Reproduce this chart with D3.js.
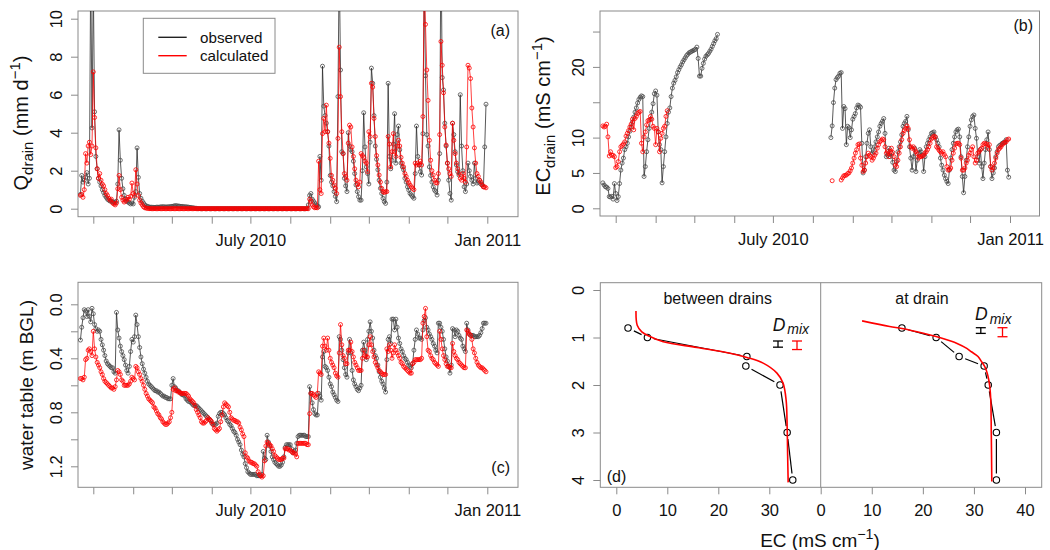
<!DOCTYPE html>
<html><head><meta charset="utf-8">
<script src="https://cdn.jsdelivr.net/npm/d3@7"></script>
<style>body{margin:0;background:#fff;} svg{display:block;}</style>
</head><body>
<script>
// ---------------- DATA ----------------
const seriesStart = "2010-02-19";            // daily series start
const qObs = [0.75,1.75,1.4,1.5,1.65,1.9,1.3,1.6,13,4.25,
12,5.1,2.75,2.1,1.6,1.4,1.2,1.0,0.85,0.7,
0.6,0.5,0.45,0.4,0.4,0.35,0.35,0.3,0.4,1.3,
4.15,2.55,1.6,1.05,0.7,0.5,0.4,0.35,0.3,0.25,
0.3,0.25,0.6,0.9,3.2,1.65,0.8,0.55,0.4,0.3,
0.2,0.15,0.12,0.1,0.08,0.08,0.07,0.07,0.07,0.08,
0.08,0.08,0.09,0.1,0.1,0.1,0.09,0.09,0.1,0.1,
0.11,0.12,0.13,0.15,0.16,0.15,0.14,0.13,0.12,0.12,
0.11,0.1,0.1,0.09,0.08,0.07,0.06,0.05,0.04,0.03,
0.02,0.01,0,0,0,0,0,0,0,0,
0,0,0,0,0,0,0,0,0,0,
0,0,0,0,0,0,0,0,0,0,
0,0,0,0,0,0,0,0,0,0,
0,0,0,0,0,0,0,0,0,0,
0,0,0,0,0,0,0,0,0,0,
0,0,0,0,0,0,0,0,0,0,
0,0,0,0,0,0,0,0,0,0,
0,0,0,0,0,0,0,0.2,0.7,0.8,
0.5,0.4,0.3,0.2,0.15,0.1,2.75,1.5,7.5,5.4,
4.9,4.5,4.05,3.3,1.75,1.4,1.2,0.9,0.65,0.37,
5.9,13,7.3,3.0,2.9,1.6,1.2,0.9,4.0,3.3,
3.1,3.0,2.5,1.85,1.25,0.9,0.63,0.45,0.45,2.0,
5.05,3.25,2.2,1.85,1.3,3.5,7.4,6.6,4.9,3.3,
2.6,2.05,1.5,1.07,0.8,0.55,0.37,0.28,1.4,6.6,
2.75,2.1,2.55,3.4,5.0,2.4,3.9,4.35,3.1,2.4,
2.2,2.05,1.6,1.4,1.15,0.98,0.8,0.72,0.63,0.55,
1.85,4.35,2.75,2.3,1.95,1.77,3.95,12,7.0,3.9,
3.3,2.2,1.75,1.4,1.15,0.98,0.9,0.72,1.5,2.9,
14,6.9,6.25,4.5,3.3,2.4,1.5,0.8,0.45,4.5,
3.9,3.0,2.3,1.95,1.77,6.0,3.3,2.0,1.15,0.9,
1.3,2.4,2.0,1.7,1.5,1.3,2.4,1.6,1.35,1.4,
1.5,1.3,1.25,1.15,3.25,5.5];
const qCalc = [0.7,0.75,0.6,1.0,2.9,2.4,3.3,3.5,2.85,3.3,
7.2,4.8,3.2,2.1,1.6,1.85,1.5,1.3,1.2,1.0,
0.8,0.7,0.55,0.45,0.5,0.3,0.25,0.2,0.3,1.05,
1.75,1.0,0.6,0.45,0.35,0.4,0.5,0.6,0.5,0.65,
1.35,0.8,0.7,2.05,1.3,0.7,0.45,0.3,0.2,0.1,
0.05,0.03,0.02,0.01,0,0,0,0,0,0,
0,0,0,0,0,0,0,0,0,0,
0,0,0,0,0,0,0,0,0,0,
0,0,0,0,0,0,0,0,0,0,
0,0,0,0,0,0,0,0,0,0,
0,0,0,0,0,0,0,0,0,0,
0,0,0,0,0,0,0,0,0,0,
0,0,0,0,0,0,0,0,0,0,
0,0,0,0,0,0,0,0,0,0,
0,0,0,0,0,0,0,0,0,0,
0,0,0,0,0,0,0,0,0,0,
0,0,0,0,0,0,0,0,0,0,
0,0,0,0,0,0,0,0,0.5,0.4,
0.2,0.1,0.05,0.05,0.05,2.5,1.0,0.8,3.95,4.75,
4.05,5.45,4.05,3.45,2.65,1.75,1.5,1.25,1.07,0.8,
3.7,8.5,5.9,4.05,2.9,1.85,1.7,1.5,3.45,4.4,
4.3,3.25,2.75,2.1,1.5,1.3,1.15,1.4,2.9,2.8,
2.7,2.5,2.4,1.95,4.05,3.8,6.6,6.4,4.75,3.8,
2.8,2.3,1.77,1.4,1.07,0.9,0.85,0.9,0.9,3.8,
3.4,2.2,3.0,3.95,3.0,2.75,3.3,3.6,3.3,2.7,
2.4,2.2,1.85,1.7,1.5,1.37,1.25,1.15,1.07,1.0,
2.4,2.3,2.4,2.3,2.5,2.3,4.85,12,9.7,7.3,
5.7,3.6,2.55,2.0,1.77,1.5,1.37,1.35,1.85,3.9,
8.8,7.55,6.1,4.3,3.35,2.4,2.1,1.85,1.7,4.5,
3.6,2.9,2.4,2.1,1.85,1.6,1.5,1.85,1.6,1.4,
3.25,7.55,7.4,6.85,5.3,4.3,3.2,2.4,1.85,1.7,
1.5,1.4,1.25,1.15,1.15,1.1];

const ecObsEarlyStart = "2010-02-19";
const ecObsEarly = [3.6,3.3,3.05,3.0,2.8,1.65,1.6,1.7,1.3,3.5,
2.1,1.1,1.65,3.5,5.4,6.4,7.1,8.3,8.7,9.2,
10.1,10.9,11.5,12.2,12.9,13.6,14.2,14.9,15.4,15.7,
15.9,15.8,4.5,5.9,8.0,9.7,11.3,12.6,13.6,14.8,
16.2,16.6,16.0,10.8,9.0,8.3,3.6,5.9,8.0,10.1,
12.0,13.6,14.2,15.8,17.0,17.7,18.1,18.6,19.2,19.6,
20.0,20.3,20.7,21.0,21.3,21.6,21.8,22.0,22.1,22.2,
22.3,22.4,22.5,22.8,21.2,18.7,18.7,19.8,20.5,21.1,
21.5,21.7,21.9,22.2,22.5,22.9,23.3,23.7,24.0,24.6];
const ecObsLateStart = "2010-08-15";
const ecObsLate = [10.0,11.65,14.95,17.0,18.2,18.5,18.7,19.1,19.2,
11.3,14.4,14.1,9.0,11.6,11.4,10.0,11.1,12.6,13.0,13.4,14.2,14.6,14.5,
14.3,9.2,5.0,5.4,7.3,9.2,10.6,11.1,8.7,7.8,
8.0,8.7,9.4,10.1,10.8,11.6,12.0,12.3,12.7,10.6,
7.3,7.5,8.5,7.3,7.8,6.5,5.4,5.2,6.6,8.0,
8.7,9.4,10.4,11.6,12.0,12.3,13.0,11.1,8.7,7.1,
5.4,7.3,8.5,5.2,6.8,7.8,8.3,8.0,7.5,5.2,
7.3,8.7,9.2,9.7,10.1,10.6,10.7,10.8,10.1,9.7,
9.2,8.7,7.1,6.1,5.4,4.7,4.2,3.8,3.5,5.4,
7.1,8.3,9.2,10.1,10.8,11.1,11.2,10.1,7.3,4.5,
2.2,4.5,6.8,8.7,10.1,11.6,12.5,13.0,13.2,11.3,
9.9,7.3,6.4,8.3,5.9,4.2,6.4,8.3,9.7,10.8,
8.3,5.9,4.2,5.0,5.7,7.3,8.0,8.7,8.9,9.0,
9.2,9.3,9.4,9.7,5.4,4.4];
const ecCalcEarlyStart = "2010-02-19";
const ecCalcEarly = [11.65,11.5,11.6,11.9,10.1,7.4,8.0,7.5,7.5,7.3,
5.75,5.9,6.6,8.0,8.7,8.9,9.1,9.4,10.2,10.6,
11.0,11.5,11.9,12.6,11.1,12.7,13.0,13.4,13.6,13.7,
9.2,8.0,10.1,10.8,11.8,12.4,12.5,13.0,12.6,11.6,
11.3,9.0,11.3,10.8,8.0,9.9,10.6,11.3,11.6,13.0,
13.8];
const ecCalcLateStart = "2010-08-16";
const ecCalcLate = [3.9,null,null,null,null,null,null,
4.0,4.3,4.6,4.65,4.7,4.9,5.0,5.3,5.7,6.4,7.1,7.8,8.3,9.0,9.1,
7.1,6.1,5.2,5.4,6.4,7.3,7.8,7.5,7.3,6.8,
7.1,7.5,7.8,8.5,9.0,9.4,9.6,9.8,9.7,8.7,
7.8,8.0,7.3,8.0,8.5,7.9,7.3,6.1,5.9,6.8,
7.8,8.7,9.7,10.6,11.0,11.3,11.65,11.3,9.7,8.7,
8.5,8.7,8.3,8.0,7.7,7.1,7.3,7.3,7.4,7.5,
7.8,8.0,8.3,8.7,9.2,9.8,10.0,10.2,10.1,8.7,
8.5,8.2,8.0,7.8,8.0,7.6,7.3,5.9,5.4,5.5,
5.7,6.8,7.8,8.5,9.1,9.2,9.2,9.0,7.1,5.4,
5.4,5.7,6.4,6.8,7.5,7.8,8.3,8.7,7.3,6.4,
6.8,7.8,8.0,8.3,8.5,9.0,9.2,9.1,9.1,8.5,
9.0,5.9,5.4,5.7,6.4,7.1,7.8,8.3,8.5,8.7,
9.0,9.2,9.3,9.4,9.7,9.8];

const wtObs = [0.265,0.17,0.1,0.04,0.05,0.09,0.04,0.09,0.13,0.03,
0.07,0.15,0.18,0.2,0.19,0.2,0.26,0.3,0.34,0.38,
0.42,0.44,0.45,0.46,0.47,0.47,0.5,0.51,0.06,0.19,
0.25,0.31,0.35,0.38,0.41,0.45,0.49,0.51,0.46,0.35,
0.26,0.28,0.24,0.08,0.15,0.24,0.32,0.39,0.44,0.48,
0.51,0.54,0.57,0.59,0.6,0.61,0.62,0.63,0.64,0.64,
0.65,0.65,0.66,0.67,0.68,0.68,0.69,0.69,0.7,0.7,
0.7,0.6,0.55,0.61,0.62,0.64,0.64,0.65,0.66,0.67,
0.67,0.68,0.7,0.71,0.72,0.72,0.73,0.74,0.75,0.75,
0.75,0.76,0.77,0.78,0.79,0.8,0.81,0.82,0.83,0.84,
0.85,0.86,0.88,0.89,0.89,0.89,0.88,0.83,0.81,0.8,
0.8,0.81,0.82,0.84,0.86,0.87,0.89,0.9,0.92,0.94,
0.95,0.97,1.0,1.02,1.04,1.08,1.11,1.13,1.18,1.21,
1.24,1.25,1.26,1.26,1.26,1.26,1.26,1.27,1.27,1.27,
1.27,1.26,1.09,1.14,1.15,0.97,1.02,1.05,1.09,1.13,
1.15,1.17,1.18,1.19,1.2,1.2,1.19,1.17,1.13,1.06,
1.04,1.04,1.04,1.04,1.07,1.1,1.09,1.08,1.03,0.98,
0.97,0.97,0.97,0.97,0.97,0.98,0.98,0.98,0.61,0.66,
0.73,0.78,0.81,0.82,0.82,0.66,0.68,0.71,0.39,0.35,
0.46,0.47,0.49,0.54,0.59,0.61,0.65,0.67,0.69,0.71,
0.72,0.24,0.26,0.34,0.41,0.47,0.52,0.54,0.36,0.26,
0.36,0.49,0.56,0.59,0.61,0.63,0.64,0.62,0.6,0.34,
0.28,0.34,0.41,0.26,0.2,0.13,0.2,0.25,0.34,0.38,
0.4,0.45,0.5,0.54,0.57,0.59,0.62,0.65,0.41,0.26,
0.24,0.29,0.11,0.11,0.19,0.11,0.17,0.25,0.29,0.33,
0.35,0.38,0.4,0.41,0.43,0.45,0.46,0.47,0.44,0.34,
0.26,0.19,0.22,0.25,0.25,0.26,0.19,0.12,0.1,0.17,
0.19,0.22,0.24,0.26,0.29,0.31,0.34,0.36,0.14,0.14,
0.17,0.2,0.26,0.33,0.39,0.42,0.46,0.51,0.45,0.18,
0.19,0.24,0.19,0.2,0.23,0.25,0.26,0.31,0.33,0.35,
0.14,0.19,0.22,0.23,0.23,0.23,0.24,0.24,0.24,0.24,
0.23,0.21,0.18,0.14,0.14,0.14];
const wtCalc = [0.55,0.55,0.56,0.54,0.41,0.4,0.34,0.33,0.35,0.38,
0.2,0.33,0.39,0.43,0.45,0.47,0.5,0.52,0.55,0.57,
0.58,0.59,0.6,0.61,0.62,0.62,0.63,0.61,0.56,0.49,
0.5,0.52,0.56,0.57,0.6,0.6,0.6,0.6,0.59,0.57,
0.54,0.55,0.56,0.46,0.47,0.5,0.52,0.55,0.57,0.6,
0.63,0.66,0.68,0.7,0.71,0.72,0.73,0.76,0.77,0.79,
0.81,0.82,0.84,0.85,0.87,0.88,0.89,0.89,0.88,0.87,
0.84,0.8,0.63,0.62,0.64,0.64,0.65,0.65,0.66,0.66,
0.66,0.66,0.66,0.67,0.68,0.7,0.71,0.72,0.73,0.75,
0.78,0.8,0.82,0.84,0.87,0.88,0.88,0.87,0.86,0.84,
0.85,0.86,0.87,0.89,0.92,0.93,0.94,0.93,0.92,0.87,
0.82,0.76,0.73,0.74,0.75,0.76,0.8,0.84,0.85,0.86,
0.86,0.87,0.87,0.88,0.91,0.93,0.96,0.98,1.1,1.13,
1.14,1.16,1.17,1.17,1.18,1.18,1.19,1.2,1.24,1.26,
1.27,1.28,1.27,1.16,1.05,1.02,1.03,1.04,1.05,1.07,
1.09,1.12,1.13,1.14,1.15,1.15,1.15,1.14,1.14,1.07,
1.07,1.07,1.08,1.08,1.09,1.1,1.1,1.11,1.13,1.03,
1.03,1.03,1.03,1.03,1.03,1.03,1.04,1.04,0.81,0.66,
0.66,0.67,0.68,0.69,0.66,0.5,0.51,0.52,0.31,0.25,
0.31,0.34,0.25,0.34,0.4,0.43,0.45,0.47,0.51,0.53,
0.54,0.36,0.15,0.3,0.38,0.4,0.44,0.44,0.34,0.34,
0.28,0.35,0.39,0.43,0.45,0.47,0.49,0.49,0.49,0.4,
0.34,0.38,0.39,0.39,0.3,0.24,0.3,0.35,0.39,0.43,
0.45,0.47,0.49,0.5,0.51,0.52,0.52,0.52,0.33,0.35,
0.3,0.34,0.4,0.36,0.3,0.34,0.36,0.38,0.4,0.43,
0.44,0.46,0.47,0.48,0.49,0.5,0.51,0.51,0.44,0.43,
0.41,0.41,0.41,0.41,0.41,0.4,0.14,0.09,0.03,0.24,
0.34,0.35,0.38,0.4,0.41,0.43,0.44,0.45,0.46,0.2,
0.26,0.33,0.38,0.41,0.44,0.46,0.46,0.47,0.47,0.29,
0.35,0.38,0.4,0.41,0.43,0.44,0.45,0.46,0.47,0.47,
0.19,0.2,0.22,0.23,0.26,0.33,0.36,0.4,0.43,0.45,
0.46,0.47,0.47,0.48,0.49,0.5];

const monthTickDates = ["2010-03-01","2010-04-01","2010-05-01","2010-06-01","2010-07-01","2010-08-01",
  "2010-09-01","2010-10-01","2010-11-01","2010-12-01","2011-01-01"];
const monthTickLabels = ["","","","","July 2010","","","","","","Jan 2011"];
const qTicks = [0,2,4,6,8,10];
const qTickLabels = ["0","2","4","6","8","10"];
const ecTicks = [0,5,10,15,20,25];
const ecTickLabels = ["0","5","10","","20",""];
const wtTicks = [0,0.2,0.4,0.6,0.8,1.0,1.2];
const wtTickLabels = ["0.0","","0.4","","0.8","","1.2"];
const depthTicks = [0,1,2,3,4];
const ecLeftTicks = [0,10,20,30];
const ecRightTicks = [0,10,20,30,40];

const betweenObsEC    = [2.3,6.1,25.6,25.4,32.1,33.5,34.6];
const betweenObsDepth = [0.8,1.0,1.4,1.6,2.0,3.0,4.0];
const betweenCalcEC    = [3.86,4.1,5.0,6.6,9.2,15.8,22.3,25.6,28.8,31.5,32.7,33.3,33.5,33.6,33.7];
const betweenCalcDepth = [0.44,0.74,0.88,0.98,1.09,1.21,1.33,1.42,1.54,1.75,1.96,2.32,2.88,3.5,4.05];
const atObsEC    = [15.9,22.6,27.1,32.0,32.8,34.4,34.4];
const atObsDepth = [0.8,1.0,1.4,1.6,2.0,3.0,4.0];
const atCalcEC    = [8.1,13.5,15.9,20.1,22.6,25.3,26.6,28.6,29.5,30.8,31.5,32.1,32.6,32.9,33.1,33.3,33.4,33.5];
const atCalcDepth = [0.65,0.77,0.81,0.91,0.98,1.07,1.12,1.23,1.30,1.40,1.51,1.61,1.75,1.89,2.03,2.32,3.02,4.03];
const dmixObs  = [0.13, 0.12];   // m
const dmixCalc = [0.18, 0.19];   // m

// ---------------- DRAWING ----------------
const FONT = "'Liberation Sans', Arial, Helvetica, sans-serif";
const BOX = "#8a8a8a", TXT = "#111";
const OBS_LINE = "#222", OBS_PT = "#4a4a4a", CALC = "#ff0000";
const svg = d3.select("body").append("svg").attr("width",1050).attr("height",550)
  .style("font-family",FONT);
const defs = svg.append("defs");
const parse = d3.utcParse("%Y-%m-%d");

function series(start, vals){
  const s = parse(start);
  return vals.map((v,i)=>({date:d3.utcDay.offset(s,i), v}));
}

const P = {
  a:{x0:78,x1:518,y0:11,y1:216.7},
  b:{x0:600,x1:1039.5,y0:11,y1:216},
  c:{x0:78,x1:518,y0:282.3,y1:487.3},
  d:{x0:600.3,x1:1041.7,y0:282.7,y1:487.3}
};

function box(p){
  svg.append("rect").attr("x",p.x0).attr("y",p.y0).attr("width",p.x1-p.x0).attr("height",p.y1-p.y0)
    .attr("fill","none").attr("stroke",BOX).attr("stroke-width",1);
}
function clip(id,p){
  defs.append("clipPath").attr("id",id).append("rect")
    .attr("x",p.x0).attr("y",p.y0).attr("width",p.x1-p.x0).attr("height",p.y1-p.y0);
  return svg.append("g").attr("clip-path",`url(#${id})`);
}
function styleAxis(g){
  g.attr("font-size",null).attr("font-family",null);
  g.select(".domain").remove();
  g.selectAll(".tick line").attr("stroke",BOX).attr("stroke-width",1);
  g.selectAll(".tick text").attr("fill",TXT).style("font-size","16.5px").style("font-family",FONT);
}
function bottomAxis(scale, y, values, labels){
  const g = svg.append("g").attr("transform",`translate(0,${y})`)
    .call(d3.axisBottom(scale).tickValues(values).tickFormat((d,i)=>labels[i]).tickSize(7).tickSizeOuter(0));
  styleAxis(g);
  g.selectAll(".tick text").attr("y",29).attr("dy",null);
}
function leftAxis(scale, x, values, labels){
  const g = svg.append("g").attr("transform",`translate(${x},0)`)
    .call(d3.axisLeft(scale).tickValues(values).tickFormat((d,i)=>labels[i]).tickSize(7).tickSizeOuter(0));
  styleAxis(g);
  g.selectAll(".tick text").attr("x",null).attr("dy",null)
    .attr("transform","translate(-16,0) rotate(-90)").attr("text-anchor","middle");
}
function richText(parent, parts, size){
  const t = parent.append("text").attr("text-anchor","middle").attr("fill",TXT).style("font-size",size+"px");
  let shift = 0;
  parts.forEach(p=>{
    const target = p.sub ? 5 : p.sup ? -8 : 0;
    const ts = t.append("tspan").text(p.t).attr("dy", target - shift);
    if (p.sub || p.sup) ts.style("font-size",(size*0.75)+"px");
    shift = target;
  });
  return t;
}
function vTitle(x,y,parts,size){
  const g = svg.append("g").attr("transform",`translate(${x},${y}) rotate(-90)`);
  richText(g, parts, size);
}
function drawTS(g, data, x, y, ptColor, lineColor){
  const line = d3.line().defined(d=>d.v!=null).x(d=>x(d.date)).y(d=>y(d.v));
  g.append("path").datum(data).attr("d",line).attr("fill","none")
    .attr("stroke",lineColor).attr("stroke-width",0.75);
  g.append("g").selectAll("circle").data(data.filter(d=>d.v!=null)).join("circle")
    .attr("cx",d=>x(d.date)).attr("cy",d=>y(d.v)).attr("r",2)
    .attr("fill","none").attr("stroke",ptColor).attr("stroke-width",0.8);
}
function panelLabel(txt,x,y,anchor){
  svg.append("text").attr("x",x).attr("y",y).attr("text-anchor",anchor).attr("fill",TXT)
    .style("font-size","16px").text(txt);
}

const tickDates = monthTickDates.map(parse);

// ---- Panel (a)
const xA = d3.scaleUtc().domain([parse("2010-03-01"),parse("2011-01-01")]).range([93.3,487.3]);
const yA = d3.scaleLinear().domain([0,10]).range([208.7,18.7]);
box(P.a);
bottomAxis(xA, P.a.y1, tickDates, monthTickLabels);
leftAxis(yA, P.a.x0, qTicks, qTickLabels);
const gA = clip("clipA", P.a);
drawTS(gA, series(seriesStart,qObs), xA, yA, OBS_PT, OBS_LINE);
drawTS(gA, series(seriesStart,qCalc), xA, yA, CALC, CALC);
vTitle(28, 123, [{t:"Q"},{t:"drain",sub:true},{t:" (mm d"},{t:"\u22121",sup:true},{t:")"}], 20);
panelLabel("(a)", 510, 35.5, "end");
// legend
svg.append("rect").attr("x",143.3).attr("y",18.3).attr("width",131.7).attr("height",55)
  .attr("fill","#fff").attr("stroke",BOX);
[["observed",OBS_LINE,37.3],["calculated",CALC,55.7]].forEach(([lab,col,yy])=>{
  svg.append("line").attr("x1",158.3).attr("x2",186.7).attr("y1",yy).attr("y2",yy)
    .attr("stroke",col).attr("stroke-width",1.4);
  svg.append("text").attr("x",200).attr("y",yy+5.3).attr("fill",TXT).style("font-size","15.2px").text(lab);
});

// ---- Panel (b)
const xB = d3.scaleUtc().domain([parse("2010-03-01"),parse("2011-01-01")]).range([615.7,1010]);
const yB = d3.scaleLinear().domain([0,25]).range([208.3,31.55]);
box(P.b);
bottomAxis(xB, P.b.y1, tickDates, monthTickLabels);
leftAxis(yB, P.b.x0, ecTicks, ecTickLabels);
const gB = clip("clipB", P.b);
drawTS(gB, series(ecObsEarlyStart,ecObsEarly), xB, yB, OBS_PT, OBS_LINE);
drawTS(gB, series(ecObsLateStart,ecObsLate), xB, yB, OBS_PT, OBS_LINE);
drawTS(gB, series(ecCalcEarlyStart,ecCalcEarly), xB, yB, CALC, CALC);
drawTS(gB, series(ecCalcLateStart,ecCalcLate), xB, yB, CALC, CALC);
vTitle(550, 116, [{t:"EC"},{t:"drain",sub:true},{t:" (mS cm"},{t:"\u22121",sup:true},{t:")"}], 20);
panelLabel("(b)", 1033, 30.5, "end");

// ---- Panel (c)
const xC = xA.copy();
const yC = d3.scaleLinear().domain([0,1.2]).range([304.3,466.3]);
box(P.c);
bottomAxis(xC, P.c.y1, tickDates, monthTickLabels);
leftAxis(yC, P.c.x0, wtTicks, wtTickLabels);
const gC = clip("clipC", P.c);
drawTS(gC, series(seriesStart,wtObs), xC, yC, OBS_PT, OBS_LINE);
drawTS(gC, series(seriesStart,wtCalc), xC, yC, CALC, CALC);
vTitle(33, 385, [{t:"water table (m BGL)"}], 19);
panelLabel("(c)", 510, 473, "end");

// ---- Panel (d)
const yD = d3.scaleLinear().domain([0,4]).range([290,480]);
const xDL = d3.scaleLinear().domain([0,30]).range([616.3,769.3]);
const xDR = d3.scaleLinear().domain([0,40]).range([820.7,1025]);
box(P.d);
svg.append("line").attr("x1",xDR(0)).attr("x2",xDR(0)).attr("y1",P.d.y0).attr("y2",P.d.y1)
  .attr("stroke",BOX).attr("stroke-width",1);
leftAxis(yD, P.d.x0, depthTicks, depthTicks.map(String));
bottomAxis(xDL, P.d.y1, ecLeftTicks, ecLeftTicks.map(String));
bottomAxis(xDR, P.d.y1, ecRightTicks, ecRightTicks.map(String));

function profile(ecObs, dObs, ecCalc, dCalc, xs){
  const pts = ecObs.map((e,i)=>[xs(e), yD(dObs[i])]);
  const gap = 6.5;
  for (let i=0;i<pts.length-1;i++){
    const [x1,y1]=pts[i],[x2,y2]=pts[i+1];
    const L = Math.hypot(x2-x1,y2-y1);
    if (L <= 2*gap) continue;
    const ux=(x2-x1)/L, uy=(y2-y1)/L;
    svg.append("line").attr("x1",x1+ux*gap).attr("y1",y1+uy*gap)
      .attr("x2",x2-ux*gap).attr("y2",y2-uy*gap).attr("stroke","#000").attr("stroke-width",1.2);
  }
  svg.append("g").selectAll("circle").data(pts).join("circle")
    .attr("cx",d=>d[0]).attr("cy",d=>d[1]).attr("r",3.2)
    .attr("fill","none").attr("stroke","#000").attr("stroke-width",1.1);
  const line = d3.line().x((d,i)=>xs(d)).y((d,i)=>yD(dCalc[i])).curve(d3.curveCatmullRom);
  svg.append("path").datum(ecCalc).attr("d",line).attr("fill","none")
    .attr("stroke",CALC).attr("stroke-width",1.6);
}
profile(betweenObsEC, betweenObsDepth, betweenCalcEC, betweenCalcDepth, xDL);
profile(atObsEC, atObsDepth, atCalcEC, atCalcDepth, xDR);

svg.append("text").attr("x",717.7).attr("y",303.5).attr("text-anchor","middle").attr("fill",TXT)
  .style("font-size","16px").text("between drains");
svg.append("text").attr("x",922).attr("y",303.5).attr("text-anchor","middle").attr("fill",TXT)
  .style("font-size","16px").text("at drain");
panelLabel("(d)", 606.7, 481.5, "start");

// D_mix annotations
function dmix(xD, yBase, xBlack, xRed, yTop, i){
  const t = svg.append("text").attr("x",xD).attr("y",yBase).attr("fill",TXT).style("font-style","italic");
  t.append("tspan").text("D").style("font-size","17.5px");
  t.append("tspan").text("mix").style("font-size","14px").attr("dx",2).attr("dy",3.5);
  const pxPerM = yD(1)-yD(0);
  [[xBlack,dmixObs[i],"#000"],[xRed,dmixCalc[i],CALC]].forEach(([cx,len,col])=>{
    const h = len*pxPerM, w = 5;
    const g = svg.append("g").attr("stroke",col).attr("stroke-width",1.3);
    g.append("line").attr("x1",cx).attr("x2",cx).attr("y1",yTop).attr("y2",yTop+h);
    g.append("line").attr("x1",cx-w).attr("x2",cx+w).attr("y1",yTop).attr("y2",yTop);
    g.append("line").attr("x1",cx-w).attr("x2",cx+w).attr("y1",yTop+h).attr("y2",yTop+h);
  });
}
dmix(772.7, 330.7, 778, 797, 341, 0);
dmix(975, 320, 980.8, 1002.5, 327.7, 1);

// x title (d)
const xt = svg.append("g").attr("transform","translate(820,547)");
richText(xt, [{t:"EC (mS cm"},{t:"\u22121",sup:true},{t:")"}], 19);
</script>
</body></html>
